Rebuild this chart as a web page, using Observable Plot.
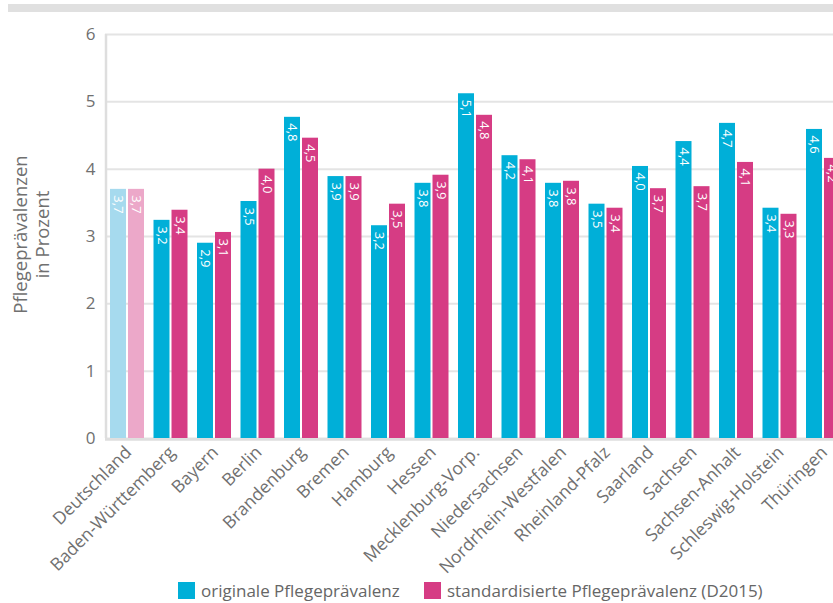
<!DOCTYPE html>
<html><head><meta charset="utf-8">
<script src="https://cdn.jsdelivr.net/npm/d3@7"></script>
<script src="https://cdn.jsdelivr.net/npm/@observablehq/plot@0.6"></script>
<style>
html,body{margin:0;padding:0;background:#fff;overflow:hidden;width:833px;height:603px;position:relative}
#topbar{position:absolute;left:8px;top:4px;width:840px;height:8px;background:#e0e0e0;}
#chart{position:absolute;left:0;top:0;width:845px}
#chart svg{max-width:none !important;width:845px;height:565px}
.item{position:absolute;top:582px;font-family:"Open Sans",sans-serif;font-size:17px;color:#666;display:flex;align-items:center;white-space:nowrap;line-height:17px}
.sw{display:inline-block;width:17px;height:17px;margin-right:6px}
</style>
</head><body>
<div id="topbar"></div>
<div id="chart"></div>
<script>
const states = ["Deutschland","Baden-Württemberg","Bayern","Berlin","Brandenburg","Bremen","Hamburg","Hessen","Mecklenburg-Vorp.","Niedersachsen","Nordrhein-Westfalen","Rheinland-Pfalz","Saarland","Sachsen","Sachsen-Anhalt","Schleswig-Holstein","Thüringen"];
const original = [3.70,3.24,2.90,3.52,4.77,3.89,3.16,3.79,5.12,4.20,3.79,3.48,4.04,4.41,4.68,3.42,4.59];
const standardisiert = [3.70,3.39,3.06,4.00,4.46,3.89,3.48,3.91,4.80,4.14,3.82,3.42,3.71,3.74,4.10,3.33,4.16];
const seriesNames = ["originale Pflegeprävalenz","standardisierte Pflegeprävalenz (D2015)"];
const yTicks = [0,1,2,3,4,5,6];
const yTitle = "Pflegeprävalenzen\nin Prozent";

const colBlue = "#00afd8", colMag = "#d63c84";
const colBlueLight = "#a6daee", colMagLight = "#eca8c9";

const origRows = states.map((s,i)=>({state:s, value:original[i]}));
const stdRows = states.map((s,i)=>({state:s, value:standardisiert[i]}));
const fmt = d => d.value.toFixed(1).replace(".", ",");

const plot = Plot.plot({
  width: 845, height: 565,
  marginLeft: 105, marginRight: 0, marginTop: 34, marginBottom: 127,
  style: {fontFamily: "Open Sans, sans-serif", fontSize: "17px", color: "#707070", background: "transparent", overflow: "visible"},
  x: {domain: states, axis: null, paddingInner: 0.2184, paddingOuter: 0.115, round: false},
  y: {domain: [0,6], ticks: yTicks, tickSize: 0, tickPadding: 10, label: null, tickFormat: d => String(d)},
  marks: [
    Plot.ruleY(yTicks, {stroke: "#e4e4e4", strokeWidth: 2}),
    Plot.ruleX([states[0]], {x: d => d, y1: 0, y2: 6, dx: -21.5, stroke: "#dedede", strokeWidth: 2.5}),
    Plot.ruleY([0], {stroke: "#dedede", strokeWidth: 2.5, dy: 1}),
    Plot.barY(origRows, {x: "state", y: "value", insetRight: 18, fill: d => d.state === "Deutschland" ? colBlueLight : colBlue}),
    Plot.barY(stdRows, {x: "state", y: "value", insetLeft: 18, fill: d => d.state === "Deutschland" ? colMagLight : colMag}),
    Plot.text(origRows, {x: "state", y: "value", text: fmt, rotate: 90, textAnchor: "start", dx: -9, dy: 6, fill: "white", fontSize: 13}),
    Plot.text(stdRows, {x: "state", y: "value", text: fmt, rotate: 90, textAnchor: "start", dx: 9, dy: 6, fill: "white", fontSize: 13}),
    Plot.text(states, {x: d => d, y: () => 0, text: d => d, rotate: -45, textAnchor: "end", dx: 1, dy: 11, fontSize: 17.5, fill: "#707070"}),
    Plot.text([yTitle], {frameAnchor: "left", text: d => d, rotate: -90, textAnchor: "middle", dx: -75, dy: -2, fontSize: 18.5, lineHeight: 1.2, fill: "#707070"})
  ]
});
document.getElementById("chart").appendChild(plot);

[[seriesNames[0], colBlue, 178],[seriesNames[1], colMag, 424]].forEach(([name, c, left]) => {
  const item = document.createElement("div");
  item.className = "item";
  item.style.left = left + "px";
  const sw = document.createElement("span");
  sw.className = "sw"; sw.style.background = c;
  const t = document.createElement("span");
  t.textContent = name;
  item.appendChild(sw); item.appendChild(t);
  document.body.appendChild(item);
});
</script>
</body></html>
